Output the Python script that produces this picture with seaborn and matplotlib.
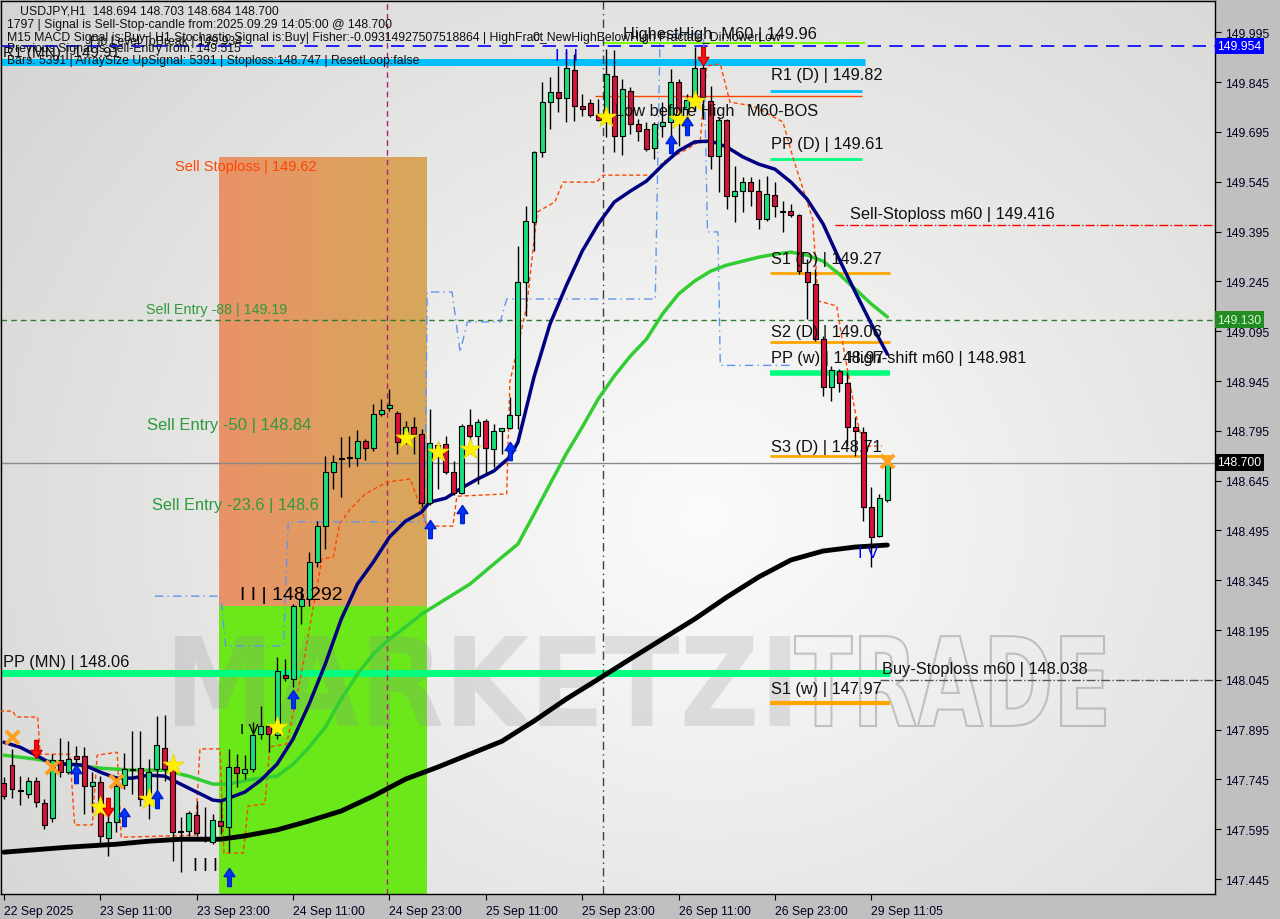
import numpy as np
import pandas as pd
import matplotlib
matplotlib.use("Agg")
import matplotlib.pyplot as plt
import seaborn as sb
from matplotlib.textpath import TextPath
from matplotlib.patches import PathPatch
from matplotlib.path import Path
from matplotlib.font_manager import FontProperties
from matplotlib.transforms import Affine2D, blended_transform_factory

sb.set_theme(style="white")
plt.rcParams["font.family"] = ["Liberation Sans", "DejaVu Sans"]

# USDJPY H1, bar index 0 = 22 Sep 23:00
opens = [147.734, 147.788, 147.713, 147.701, 147.740, 147.674, 147.629, 147.803, 147.767, 147.815,
         147.815, 147.725, 147.737, 147.569, 147.617, 147.728, 147.776, 147.779, 147.695, 147.776,
         147.840, 147.797, 147.590, 147.590, 147.638, 147.569, 147.556, 147.620, 147.602, 147.782,
         147.764, 147.776, 147.882, 147.906, 147.879, 148.059, 148.047, 148.267, 148.288, 148.400,
         148.508, 148.671, 148.713, 148.713, 148.713, 148.764, 148.743, 148.846, 148.864, 148.849,
         148.785, 148.806, 148.785, 148.577, 148.743, 148.755, 148.671, 148.607, 148.812, 148.779,
         148.824, 148.740, 148.794, 148.803, 148.842, 149.243, 149.424, 149.635, 149.785, 149.815,
         149.797, 149.882, 149.773, 149.782, 149.749, 149.743, 149.864, 149.683, 149.818, 149.719,
         149.704, 149.647, 149.713, 149.725, 149.845, 149.764, 149.788, 149.888, 149.788, 149.623,
         149.731, 149.502, 149.517, 149.544, 149.517, 149.433, 149.505, 149.457, 149.457, 149.445,
         149.273, 149.237, 149.071, 148.927, 148.975, 148.939, 148.806, 148.791, 148.565, 148.478,
         148.586]
highs = [147.752, 147.837, 147.755, 147.752, 147.752, 147.686, 147.821, 147.869, 147.860, 147.845,
         147.842, 147.767, 147.755, 147.635, 147.755, 147.824, 147.891, 147.891, 147.806, 147.936,
         147.939, 147.806, 147.632, 147.650, 147.680, 147.662, 147.641, 147.677, 147.837, 147.821,
         147.818, 147.918, 147.966, 147.912, 148.114, 148.108, 148.273, 148.318, 148.430, 148.523,
         148.719, 148.722, 148.776, 148.779, 148.797, 148.770, 148.876, 148.891, 148.921, 148.855,
         148.824, 148.836, 148.800, 148.861, 148.761, 148.779, 148.704, 148.815, 148.861, 148.830,
         148.830, 148.815, 148.803, 148.897, 149.352, 149.472, 149.638, 149.845, 149.861, 149.894,
         149.939, 149.930, 149.809, 149.794, 149.794, 149.945, 149.942, 149.855, 149.830, 149.734,
         149.725, 149.725, 149.785, 149.885, 149.854, 149.809, 149.951, 149.936, 149.833, 149.740,
         149.734, 149.593, 149.559, 149.559, 149.553, 149.562, 149.544, 149.487, 149.478, 149.448,
         149.312, 149.282, 149.080, 148.990, 148.981, 148.972, 148.836, 148.806, 148.626, 148.604,
         148.704]
lows = [147.686, 147.689, 147.668, 147.689, 147.662, 147.596, 147.617, 147.752, 147.761, 147.746,
        147.641, 147.647, 147.551, 147.515, 147.587, 147.716, 147.701, 147.665, 147.626, 147.695,
        147.740, 147.499, 147.466, 147.575, 147.575, 147.556, 147.550, 147.580, 147.526, 147.722,
        147.746, 147.767, 147.867, 147.827, 147.867, 148.041, 148.023, 148.213, 148.267, 148.385,
        148.439, 148.620, 148.596, 148.686, 148.689, 148.707, 148.734, 148.840, 148.855, 148.725,
        148.755, 148.725, 148.565, 148.571, 148.620, 148.665, 148.601, 148.604, 148.731, 148.635,
        148.665, 148.686, 148.725, 148.800, 148.800, 149.141, 149.336, 149.620, 149.704, 149.755,
        149.725, 149.728, 149.743, 149.740, 149.728, 149.680, 149.635, 149.626, 149.689, 149.668,
        149.638, 149.614, 149.680, 149.674, 149.653, 149.704, 149.758, 149.734, 149.583, 149.514,
        149.463, 149.424, 149.454, 149.472, 149.403, 149.427, 149.439, 149.394, 149.439, 149.267,
        149.132, 149.065, 148.900, 148.885, 148.912, 148.749, 148.719, 148.523, 148.385, 148.475,
        148.580]
closes = [147.695, 147.716, 147.710, 147.740, 147.677, 147.608, 147.803, 147.767, 147.806, 147.806,
          147.725, 147.737, 147.575, 147.617, 147.725, 147.776, 147.773, 147.686, 147.767, 147.849,
          147.776, 147.587, 147.588, 147.644, 147.584, 147.571, 147.623, 147.605, 147.782, 147.764,
          147.776, 147.879, 147.906, 147.882, 148.071, 148.050, 148.267, 148.288, 148.400, 148.508,
          148.671, 148.701, 148.711, 148.715, 148.764, 148.743, 148.846, 148.858, 148.873, 148.761,
          148.806, 148.785, 148.577, 148.758, 148.752, 148.671, 148.607, 148.809, 148.779, 148.821,
          148.743, 148.794, 148.803, 148.842, 149.243, 149.427, 149.635, 149.785, 149.815, 149.797,
          149.888, 149.773, 149.764, 149.746, 149.731, 149.870, 149.683, 149.824, 149.719, 149.698,
          149.644, 149.719, 149.725, 149.845, 149.722, 149.791, 149.888, 149.800, 149.623, 149.731,
          149.502, 149.517, 149.544, 149.517, 149.433, 149.508, 149.472, 149.455, 149.445, 149.276,
          149.243, 149.071, 148.927, 148.978, 148.939, 148.806, 148.794, 148.565, 148.475, 148.593,
          148.700]

# moving averages (bar index, price)
navy_bar = [0, 2, 4, 6, 8, 10, 12, 14, 16, 18, 20, 22, 24, 26, 27, 30, 32, 34, 36, 38, 40, 42, 44,
            46, 48, 50, 52, 53, 55, 57, 59, 61, 63, 64, 66, 68, 70, 72, 74, 76, 78, 80, 82, 84, 86,
            88, 90, 92, 94, 96, 98, 100, 102, 104, 106, 108, 110]
navy_val = [147.857, 147.842, 147.818, 147.791, 147.791, 147.788, 147.767, 147.749, 147.749, 147.758,
            147.755, 147.731, 147.707, 147.683, 147.680, 147.707, 147.743, 147.791, 147.867, 147.972,
            148.092, 148.228, 148.333, 148.400, 148.475, 148.523, 148.550, 148.580, 148.592, 148.623,
            148.650, 148.674, 148.716, 148.761, 148.957, 149.117, 149.231, 149.336, 149.418, 149.484,
            149.517, 149.547, 149.595, 149.638, 149.665, 149.668, 149.650, 149.620, 149.598, 149.583,
            149.544, 149.493, 149.418, 149.312, 149.213, 149.117, 149.026]
green_bar = [0, 4, 8, 12, 16, 20, 23, 26, 28, 31, 34, 36, 38, 40, 42, 44, 46, 48, 50, 52, 55, 58, 61,
             64, 66, 68, 70, 72, 74, 76, 78, 80, 82, 84, 86, 88, 90, 92, 94, 96, 98, 100, 102, 104,
             106, 108, 110]
green_val = [147.818, 147.806, 147.791, 147.779, 147.773, 147.773, 147.755, 147.731, 147.731, 147.746,
             147.755, 147.791, 147.842, 147.902, 147.987, 148.062, 148.123, 148.168, 148.204, 148.243,
             148.288, 148.333, 148.394, 148.454, 148.544, 148.635, 148.725, 148.806, 148.891, 148.960,
             149.020, 149.071, 149.147, 149.207, 149.246, 149.276, 149.294, 149.306, 149.318, 149.327,
             149.333, 149.324, 149.306, 149.267, 149.222, 149.177, 149.138]
black_bar = [0, 8, 14, 18, 22, 27, 30, 34, 38, 42, 46, 50, 54, 58, 62, 66, 70, 74, 78, 82, 86, 90,
             94, 98, 102, 106, 110]
black_val = [147.526, 147.541, 147.550, 147.559, 147.565, 147.565, 147.575, 147.593, 147.620, 147.650,
             147.695, 147.746, 147.782, 147.821, 147.860, 147.921, 147.987, 148.047, 148.108, 148.168,
             148.228, 148.294, 148.355, 148.406, 148.433, 148.445, 148.451]

# trailing stop (orange dashed) and channel (blue dash-dot) steps
trail_bar = [-0.5, 1.1, 1.5, 4.2, 4.5, 8.2, 8.8, 11.0, 11.6, 14.1, 14.6, 23.8, 24.4, 26.9, 27.4, 29.8,
             30.4, 32.5, 33.1, 35.2, 36.9, 38.7, 39.6, 41.0, 41.8, 43.1, 45.0, 47.7, 50.6, 52.7, 55.9,
             56.4, 62.6, 63.0, 65.1, 66.4, 68.6, 69.6, 73.8, 74.6, 80.8, 82.1, 85.1, 86.7, 87.5, 89.2,
             90.4, 93.3, 97.0, 98.3, 100.7, 101.4, 103.7, 104.5, 106.0, 107.0, 109.3]
trail_val = [147.951, 147.951, 147.933, 147.933, 147.821, 147.821, 147.608, 147.608, 147.818, 147.827,
             147.571, 147.577, 147.837, 147.837, 147.523, 147.523, 147.665, 147.671, 147.843, 147.852,
             148.047, 148.288, 148.409, 148.415, 148.514, 148.559, 148.605, 148.641, 148.650, 148.508,
             148.508, 148.598, 148.605, 148.942, 149.171, 149.454, 149.484, 149.544, 149.544, 149.565,
             149.565, 149.605, 149.644, 149.668, 149.894, 149.900, 149.785, 149.773, 149.725, 149.614,
             149.433, 149.186, 149.171, 149.050, 148.852, 148.749, 148.749]
chan_bar = [18.8, 27.0, 27.6, 34.8, 35.4, 52.4, 52.7, 55.8, 56.8, 57.7, 61.8, 62.6, 81.1, 81.7, 87.1,
            87.6, 88.9, 89.2, 97.9]
chan_val = [148.297, 148.297, 148.147, 148.147, 148.521, 148.521, 149.213, 149.213, 149.032, 149.123,
            149.123, 149.192, 149.192, 149.990, 149.990, 149.394, 149.394, 148.992, 148.992]

tick_bars = [0, 12, 24, 36, 48, 60, 72, 84, 96, 108]
tick_text = ["22 Sep 2025", "23 Sep 11:00", "23 Sep 23:00", "24 Sep 11:00", "24 Sep 23:00",
             "25 Sep 11:00", "25 Sep 23:00", "26 Sep 11:00", "26 Sep 23:00", "29 Sep 11:05"]

star_bar = [12, 18, 21, 34, 50, 54, 58, 75, 84, 86]
star_val = [147.662, 147.686, 147.788, 147.903, 148.773, 148.731, 148.740, 149.740, 149.734, 149.788]
up_bar = [9, 15, 19, 28, 36, 53, 57, 63, 83, 85]
up_val = [147.761, 147.632, 147.686, 147.451, 147.987, 148.499, 148.544, 148.734, 149.659, 149.713]
down_bar = [4, 13, 87]
down_val = [147.837, 147.662, 149.924]
cross_bar = [1, 6, 14, 110]
cross_val = [147.873, 147.782, 147.740, 148.704]

df = pd.DataFrame({"bar": np.arange(len(closes)), "open": opens, "high": highs,
                   "low": lows, "close": closes})

XMIN, XMAX = -0.37, 150.8
YMIN, YMAX = 147.40, 150.0895

fig = plt.figure(figsize=(12.8, 9.2), dpi=100, facecolor="#C0C0C0")
ax = fig.add_axes([1 / 1280, 25 / 920, 1214 / 1280, 893 / 920])
ax.set_xlim(XMIN, XMAX)
ax.set_ylim(YMIN, YMAX)

# fundo cinza com centro claro
gx, gy = np.meshgrid(np.linspace(0, 1, 200), np.linspace(0, 1, 150))
dist = np.clip(np.sqrt(((gx - 0.58) / 0.75) ** 2 + ((gy - 0.42) / 0.9) ** 2), 0, 1)
edge = np.array([212, 212, 210]) / 255
centre = np.array([252, 252, 252]) / 255
bg = centre * (1 - dist[..., None]) + edge * dist[..., None]
ax.imshow(bg, extent=(XMIN, XMAX, YMIN, YMAX), origin="lower", aspect="auto", zorder=0)

# zonas de venda / compra
box_x0, box_x1, box_mid, box_top = 26.8, 52.7, 148.267, 149.617
t = np.linspace(0, 1, 100)
left_c = np.array([234, 146, 104]) / 255
right_c = np.array([214, 168, 90]) / 255
orange_grad = (left_c * (1 - t[:, None]) + right_c * t[:, None])[None, :, :]
ax.imshow(orange_grad, extent=(box_x0, box_x1, box_mid, box_top), aspect="auto", zorder=1)
ax.fill_between([box_x0, box_x1], YMIN, box_mid, color="#6AE81A", zorder=1, lw=0)

# marca d'agua
def watermark(text, x0, x1, y0, y1, filled):
    tp = TextPath((0, 0), text, size=1, prop=FontProperties(family="DejaVu Sans", weight="bold"))
    ext = tp.get_extents()
    tr = Affine2D().translate(-ext.x0, 0).scale((x1 - x0) / ext.width, (y1 - y0) / 0.73)
    tr = tr.translate(x0, y0) + ax.transData
    if filled:
        patch = PathPatch(tp, transform=tr, facecolor="#8c8c8c", edgecolor="none", alpha=0.22, zorder=1.5)
    else:
        patch = PathPatch(tp, transform=tr, facecolor="none", edgecolor="#9a9a9a", lw=1.5, alpha=0.55,
                          zorder=1.5)
    ax.add_patch(patch)

watermark("MARKETZI", 21.3, 97.9, 147.906, 148.177, True)
watermark("TRADE", 98.5, 137.1, 147.906, 148.177, False)

# linhas horizontais
ax.axhline(149.954, color="#0000FF", lw=1.2, ls=(0, (8, 5)), zorder=2)
ax.axhline(149.129, color="#2E7D32", lw=1, ls=(0, (4, 3)), zorder=2)
ax.axhline(148.699, color="#8A8A8A", lw=1, zorder=2)
ax.hlines(149.906, -0.5, 107.2, color="#00BFFF", lw=5, zorder=2)
ax.hlines(149.962, 74.6, 107.2, color="#7CFC00", lw=1.5, zorder=2)
ax.hlines(149.818, 95.4, 106.8, color="#00BFFF", lw=2, zorder=2)
ax.hlines(149.802, 73.6, 106.8, color="#FF4500", lw=1, zorder=2)
ax.hlines(149.614, 95.4, 106.8, color="#00FF7F", lw=2, zorder=2)
ax.hlines(149.415, 103.5, XMAX, color="#FF0000", lw=1, ls="-.", zorder=2)
ax.hlines(149.270, 95.4, 110.3, color="#FFA500", lw=2, zorder=2)
ax.hlines(149.062, 95.4, 110.3, color="#FFA500", lw=2, zorder=2)
ax.hlines(148.969, 95.4, 110.3, color="#00FF7F", lw=4, zorder=2)
ax.hlines(148.719, 95.4, 110.3, color="#FFA500", lw=2, zorder=2)
ax.hlines(148.065, -0.5, 110.3, color="#00FF7F", lw=5, zorder=2)
ax.hlines(148.044, 109.1, XMAX, color="#555555", lw=1, ls="-.", zorder=2)
ax.hlines(147.975, 95.4, 110.3, color="#FFA500", lw=3, zorder=2)
ax.axvline(47.7, color="#B0207A", lw=1, ls=(0, (4, 3)), zorder=2)
ax.axvline(74.6, color="#404040", lw=1, ls=(0, (6, 3, 1, 3)), zorder=2)

ax.plot(trail_bar, trail_val, color="#FF4500", lw=1, ls=(0, (3, 2)), zorder=3)
ax.plot(chan_bar, chan_val, color="#6495ED", lw=1, ls=(0, (6, 3, 1, 3)), zorder=3)

# medias moveis
sb.lineplot(x=black_bar, y=black_val, ax=ax, color="black", lw=3.5, zorder=4)
sb.lineplot(x=green_bar, y=green_val, ax=ax, color="#32CD32", lw=2.5, zorder=4)
sb.lineplot(x=navy_bar, y=navy_val, ax=ax, color="#000080", lw=2.5, zorder=4)

# velas
up = df["close"] >= df["open"]
ax.vlines(df["bar"], df["low"], df["high"], color="black", lw=1, zorder=5)
body = (df["close"] - df["open"]).abs().clip(lower=0.002)
ax.bar(df["bar"], body, bottom=df[["open", "close"]].min(axis=1), width=0.62,
       color=np.where(up, "#19E07A", "#D8133A"), edgecolor="black", lw=0.8, zorder=6)

# marcadores
arrow = Path([(-0.2, -1), (0.2, -1), (0.2, 0.1), (0.6, 0.1), (0, 1), (-0.6, 0.1), (-0.2, 0.1), (-0.2, -1)],
             [Path.MOVETO] + [Path.LINETO] * 6 + [Path.CLOSEPOLY])
arrow_dn = Path(arrow.vertices * np.array([1, -1]), arrow.codes)
sb.scatterplot(x=star_bar, y=star_val, ax=ax, marker="*", s=260, color="#FFF200", edgecolor="#E8D000",
               lw=0.5, zorder=7)
sb.scatterplot(x=up_bar, y=up_val, ax=ax, marker=arrow, s=170, color="#0033FF", edgecolor="#0022CC",
               zorder=7)
sb.scatterplot(x=down_bar, y=down_val, ax=ax, marker=arrow_dn, s=170, color="#FF1010", edgecolor="#D00000",
               zorder=7)
sb.scatterplot(x=cross_bar, y=cross_val, ax=ax, marker="x", s=90, color="#FFA020", lw=2.8, zorder=7)

# rotulos dos niveis
lab = dict(fontsize=11.8, color="#101010", va="center", ha="left", zorder=8)
ax.text(21.3, 149.593, "Sell Stoploss | 149.62", fontsize=10.5, color="#FF4500", va="center", zorder=8)
ax.text(17.7, 149.162, "Sell Entry -88 | 149.19", fontsize=10.3, color="#2E9A3E", va="center", zorder=8)
ax.text(17.8, 148.815, "Sell Entry -50 | 148.84", fontsize=12, color="#2E9A3E", va="center", zorder=8)
ax.text(18.4, 148.574, "Sell Entry -23.6 | 148.6", fontsize=11.8, color="#2E9A3E", va="center", zorder=8)
ax.text(29.4, 148.303, "I I | 148.292", fontsize=14, color="black", va="center", zorder=8)
ax.text(29.4, 147.897, "I V", fontsize=11, color="black", va="center", zorder=8)
ax.text(23.5, 147.487, "I I I", fontsize=13, color="black", va="center", zorder=8)
ax.text(68.6, 149.925, "I I I", fontsize=12, color="#0000FF", va="center", zorder=8)
ax.text(106.3, 148.43, "I V", fontsize=12, color="#0000FF", va="center", zorder=8)
ax.text(-0.1, 148.101, "PP (MN) | 148.06", **lab)
ax.text(77.1, 149.993, "HighestHigh  M60 | 149.96", **lab)
ax.text(76.1, 149.761, "Low before High", **lab)
ax.text(92.5, 149.761, "M60-BOS", **lab)
ax.text(95.5, 149.867, "R1 (D) | 149.82", **lab)
ax.text(95.5, 149.659, "PP (D) | 149.61", **lab)
ax.text(105.4, 149.451, "Sell-Stoploss m60 | 149.416", **lab)
ax.text(95.5, 149.315, "S1 (D) | 149.27", **lab)
ax.text(95.5, 149.095, "S2 (D) | 149.06", **lab)
ax.text(95.5, 149.017, "PP (w) | 148.97", **lab)
ax.text(105.1, 149.017, "High-shift m60 | 148.981", **lab)
ax.text(95.5, 148.749, "S3 (D) | 148.71", **lab)
ax.text(109.3, 148.080, "Buy-Stoploss m60 | 148.038", **lab)
ax.text(95.5, 148.020, "S1 (w) | 147.97", **lab)

# cabecalho
head = dict(fontsize=8.8, color="#101010", va="center", ha="left")
fig.text(20 / 1280, 1 - 12 / 920, "USDJPY,H1  148.694 148.703 148.684 148.700", **head)
fig.text(7 / 1280, 1 - 25 / 920, "1797 | Signal is Sell-Stop-candle from:2025.09.29 14:05:00 @ 148.700", **head)
fig.text(7 / 1280, 1 - 38 / 920, "M15 MACD Signal is:Buy | H1 Stochastic Signal is:Buy| Fisher:-0.09314927507518864 | HighFract", **head)
fig.text(533 / 1280, 1 - 38 / 920, "0_NewHighBelowHigh Fractals_Dir:lowerLow", **head)
fig.text(90 / 1280, 1 - 42 / 920, "Fib Level ToBreak | 149.934", **head)
fig.text(7 / 1280, 1 - 49 / 920, "Previous Signal is:Sell-Entry from: 149.515", **head)
fig.text(3 / 1280, 1 - 53 / 920, "R1 (MN) | 149.91", fontsize=11, color="#101010", va="center")
fig.text(7 / 1280, 1 - 61 / 920, "Bars: 5391 | ArraySize UpSignal: 5391 | Stoploss:148.747 | ResetLoop:false", **head)

# eixos
ax.yaxis.tick_right()
ax.set_yticks(np.round(np.arange(147.445, 150.0, 0.15), 3))
ax.set_yticklabels([f"{v:.3f}" for v in np.arange(147.445, 150.0, 0.15)])
ax.set_xticks(tick_bars)
ax.set_xticklabels(tick_text, ha="left")
ax.tick_params(axis="both", which="both", length=4, width=0.8, color="black", labelsize=8.8,
               labelcolor="#000022", direction="out", pad=3)
ax.tick_params(axis="x", pad=4)
ax.tick_params(left=False, right=True, bottom=True)
for side in ax.spines.values():
    side.set_color("black")
    side.set_linewidth(1)
ax.set_xlabel("")
ax.set_ylabel("")

# caixas de preco no eixo
tr = blended_transform_factory(ax.transAxes, ax.transData)
for price, fc, tc in [(149.954, "#0000FF", "white"), (149.130, "#228B22", "#D8F5D8"),
                      (148.700, "black", "white")]:
    ax.text(1.002, price, f"{price:.3f}", transform=tr, fontsize=8.8, color=tc, va="center", ha="left",
            bbox=dict(boxstyle="square,pad=0.2", fc=fc, ec="none"), zorder=9, clip_on=False)

fig.savefig("out.png", dpi=100, facecolor=fig.get_facecolor())
